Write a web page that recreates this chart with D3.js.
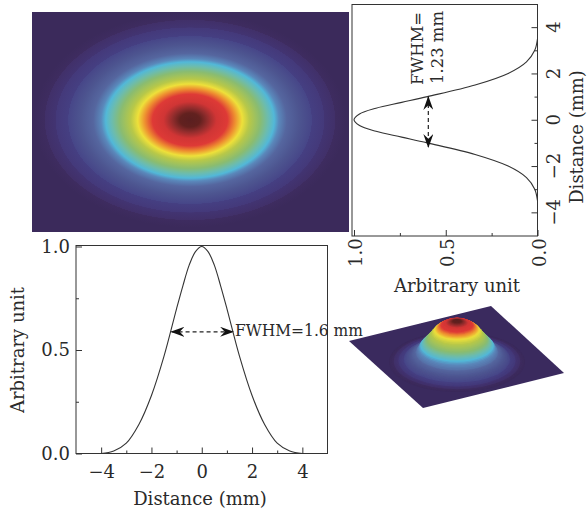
<!DOCTYPE html>
<html>
<head>
<meta charset="utf-8">
<script src="https://cdn.jsdelivr.net/npm/d3@7"></script>
<style>
html,body{margin:0;padding:0;background:#fff;}
svg{display:block;}
text{font-family:"DejaVu Serif",serif;fill:#2a2a2a;}
</style>
</head>
<body>
<div id="chart"></div>
<script>
// horizontal profile (bottom left plot)
var profileX = [-4,-3.5,-3,-2.5,-2,-1.5,-1,-0.75,-0.5,-0.25,0,0.25,0.5,0.75,1,1.5,2,2.5,3,3.5,4];
var profileY = [0,0.012,0.05,0.14,0.28,0.47,0.7,0.81,0.91,0.975,1,0.975,0.91,0.81,0.7,0.47,0.28,0.14,0.05,0.012,0];
var xTicks = [-4,-2,0,2,4];
var xMinorTicks = [-3,-1,1,3];
var yTicks = [0,0.5,1];
var yMinorTicks = [0.25,0.75];

// vertical profile (top right plot)
var verticalD = [-3.5,-3,-2.5,-2,-1.5,-1,-0.75,-0.5,-0.25,0,0.25,0.5,0.75,1,1.5,2,2.5,3,3.5];
var verticalV = [0,0.015,0.06,0.16,0.34,0.6,0.74,0.88,0.97,1,0.97,0.88,0.74,0.6,0.34,0.16,0.06,0.015,0];

// beam colours, radius is fraction of the outer ellipse
var beamR = [0,0.065,0.11,0.17,0.24,0.29,0.335,0.38,0.45,0.5,0.54,0.57,0.62,0.7,0.78,0.781,0.86,0.861,0.93,0.931,1];
var beamC = ['#5a1f20','#62211f','#8f2c2c','#d03535','#de3a36','#ee9030','#eee03a','#b8c848','#8abc70','#6cbcae','#52b8d8','#5a88bb','#55669f','#4d5590','#474688','#453f82','#44397a','#423472','#413069','#3e2c60','#3b2a5b'];

// 3d view: ring radius and lift above the plate
var surfaceR = [1,0.8,0.6,0.545,0.42,0.335,0.28,0.2,0];
var surfaceH = [0,2,10,16,25,32,35,38.5,42];

var svg = d3.select('#chart').append('svg').attr('width',588).attr('height',512);
var color = d3.scaleLinear().domain(beamR).range(beamC);

// heat map
var grad = svg.append('defs').append('radialGradient').attr('id','beam');
beamR.forEach(function(r,i){
	grad.append('stop').attr('offset',r).attr('stop-color',beamC[i]);
});
svg.append('rect').attr('x',32).attr('y',12).attr('width',317).attr('height',220).attr('fill','#3b2a5b');
svg.append('ellipse').attr('cx',190).attr('cy',120).attr('rx',156).attr('ry',107.5).attr('fill','url(#beam)');

function drawFrame(x0,x1,y0,y1){
	svg.append('rect').attr('x',x0).attr('y',y0).attr('width',x1-x0).attr('height',y1-y0)
		.attr('fill','none').attr('stroke','#333').attr('stroke-width',1);
}

// bottom plot
var x = d3.scaleLinear().domain([-5,5]).range([76,327.5]);
var y = d3.scaleLinear().domain([0,1]).range([453.5,246.5]);
drawFrame(76,327.5,245.5,453.5);
svg.append('g').attr('transform','translate(0,453.5)')
	.call(d3.axisBottom(x).tickValues(xTicks).tickSize(-6).tickPadding(12).tickFormat(function(d){return d<0?'\u2212'+(-d):d;}));
svg.append('g').attr('transform','translate(0,453.5)').call(d3.axisBottom(x).tickValues(xMinorTicks).tickSize(-3).tickFormat(''));
svg.append('g').attr('transform','translate(76,0)')
	.call(d3.axisLeft(y).tickValues(yTicks).tickSize(-6).tickPadding(6).tickFormat(d3.format('.1f')));
svg.append('g').attr('transform','translate(76,0)').call(d3.axisLeft(y).tickValues(yMinorTicks).tickSize(-3).tickFormat(''));
var line = d3.line().x(function(d,i){return x(profileX[i]);}).y(function(d){return y(d);}).curve(d3.curveCatmullRom);
svg.append('path').attr('d',line(profileY)).attr('fill','none').attr('stroke','#333').attr('stroke-width',1.1);

svg.append('text').attr('x',200).attr('y',505).attr('text-anchor','middle').style('font-size','18px').text('Distance (mm)');
svg.append('text').attr('transform','translate(24,350) rotate(-90)').attr('text-anchor','middle').style('font-size','18px').text('Arbitrary unit');

// arrow markers
var defs = svg.select('defs');
defs.append('marker').attr('id','head').attr('viewBox','0 0 12 10').attr('refX',11).attr('refY',5)
	.attr('markerWidth',14).attr('markerHeight',10).attr('markerUnits','userSpaceOnUse').attr('orient','auto-start-reverse')
	.attr('preserveAspectRatio','none')
	.append('path').attr('d','M12,5L0,0L4,5L0,10Z').attr('fill','#111');

svg.append('line').attr('x1',x(-1.2)).attr('x2',x(1.24)).attr('y1',y(0.588)).attr('y2',y(0.588))
	.attr('stroke','#222').attr('stroke-width',1.2).attr('stroke-dasharray','4,3').attr('marker-start','url(#head)').attr('marker-end','url(#head)');
svg.append('text').attr('x',235).attr('y',336).attr('textLength',128).attr('lengthAdjust','spacingAndGlyphs').style('font-size','17.5px').text('FWHM=1.6 mm');

// right plot, axes are swapped
var v = d3.scaleLinear().domain([0,1]).range([537.5,354]);
var d = d3.scaleLinear().domain([-5,5]).range([235.5,4]);
drawFrame(352,537.5,4.5,236);
svg.append('g').attr('transform','translate(0,236)')
	.call(d3.axisBottom(v).tickValues(yTicks).tickSize(-6).tickFormat(''));
svg.append('g').attr('transform','translate(0,236)').call(d3.axisBottom(v).tickValues(yMinorTicks).tickSize(-3).tickFormat(''));
svg.append('g').attr('transform','translate(537.5,0)').call(d3.axisRight(d).tickValues(xTicks).tickSize(-6).tickFormat(''));
svg.append('g').attr('transform','translate(537.5,0)').call(d3.axisRight(d).tickValues(xMinorTicks).tickSize(-3).tickFormat(''));

yTicks.forEach(function(t){
	svg.append('text').attr('transform','translate('+(v(t)+8)+',267) rotate(-90)')
		.style('font-size','18px').text(d3.format('.1f')(t));
});
xTicks.forEach(function(t){
	svg.append('text').attr('transform','translate(560,'+d(t)+') rotate(-90)').attr('text-anchor','middle')
		.style('font-size','18px').text(t<0?'\u2212'+(-t):t);
});
var vline = d3.line().x(function(t){return v(t);}).y(function(t,i){return d(verticalD[i]);}).curve(d3.curveCatmullRom);
svg.append('path').attr('d',vline(verticalV)).attr('fill','none').attr('stroke','#333').attr('stroke-width',1.1);

svg.append('line').attr('x1',v(0.595)).attr('x2',v(0.595)).attr('y1',d(0.98)).attr('y2',d(-1.17))
	.attr('stroke','#222').attr('stroke-width',1.2).attr('stroke-dasharray','4,3').attr('marker-start','url(#head)').attr('marker-end','url(#head)');
svg.append('text').attr('transform','translate(423,85) rotate(-90)').attr('textLength',73).attr('lengthAdjust','spacingAndGlyphs').style('font-size','17.5px').text('FWHM=');
svg.append('text').attr('transform','translate(443,84) rotate(-90)').attr('textLength',73).attr('lengthAdjust','spacingAndGlyphs').style('font-size','17.5px').text('1.23 mm');
svg.append('text').attr('transform','translate(583,137) rotate(-90)').attr('text-anchor','middle').style('font-size','18px').text('Distance (mm)');
svg.append('text').attr('x',457).attr('y',292).attr('text-anchor','middle').style('font-size','18px').text('Arbitrary unit');

svg.selectAll('.domain').attr('stroke','none');
svg.selectAll('.tick line').attr('stroke','#333');
svg.selectAll('.tick text').style('font-size','18px').style('font-family','"DejaVu Serif",serif').attr('fill','#2a2a2a');

// 3d view
var plate = [[349,341],[491,306],[564,373],[423,408]];
svg.append('path').attr('d',d3.line()(plate)+'Z').attr('fill','#3a2a5e');
var ringRx = d3.scaleLinear().domain([0,1]).range([0,68]);
var ringRy = d3.scaleLinear().domain([0,1]).range([0,30]);
var ringH = d3.scaleLinear().domain(surfaceR).range(surfaceH);
d3.range(1,-0.001,-0.01).forEach(function(r){
	svg.append('ellipse').attr('cx',457).attr('cy',362-ringH(r)).attr('rx',ringRx(r)).attr('ry',ringRy(r)).attr('fill',color(r));
});
</script>
</body>
</html>
